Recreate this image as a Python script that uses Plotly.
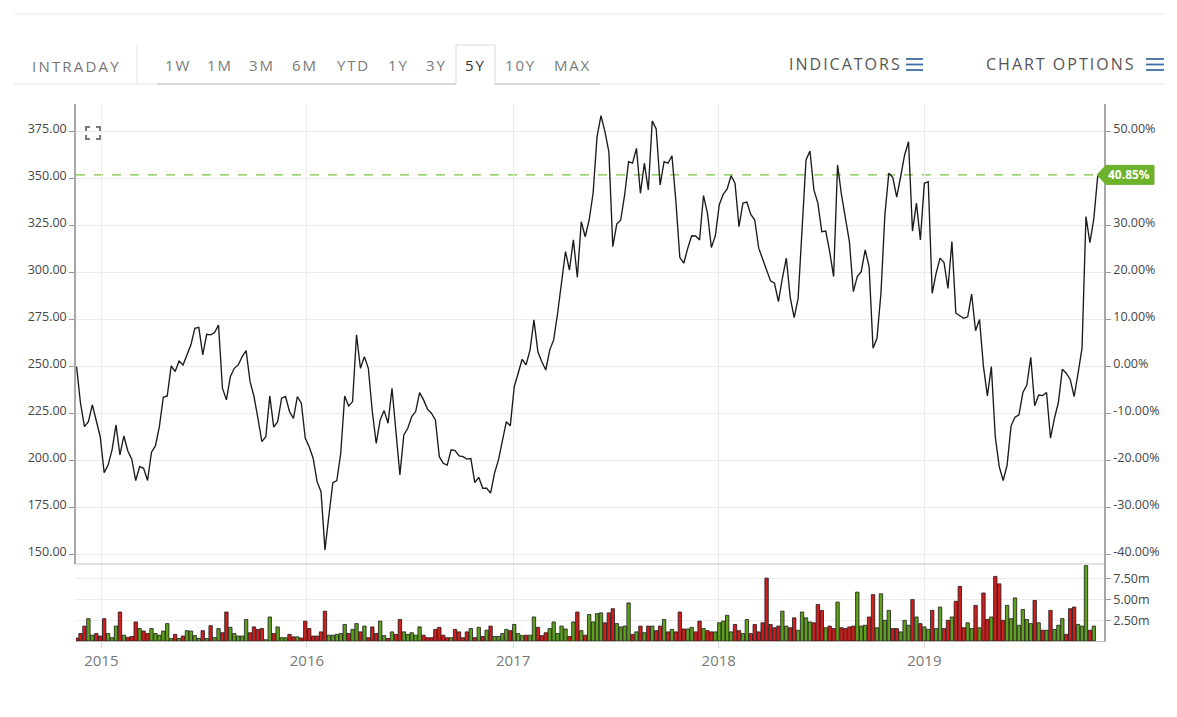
import plotly.graph_objects as go
import pandas as pd

# ---------------- data ----------------
start_date = "2014-11-18"          # first weekly close
close = [
    250.0, 230.5, 218.1, 220.7, 229.7, 221.6, 212.7, 193.6, 197.6, 205.7,
    219.0, 203.0, 213.1, 205.1, 200.8, 189.4, 196.8, 195.9, 189.4, 204.5,
    207.8, 218.1, 233.7, 234.4, 250.4, 247.4, 253.0, 250.9, 256.2, 261.6,
    270.4, 270.9, 256.2, 267.2, 266.9, 268.1, 272.1, 238.5, 232.3, 244.6,
    249.1, 250.9, 255.3, 258.5, 242.0, 234.1, 222.5, 210.1, 212.7, 234.4,
    217.8, 220.7, 233.2, 234.1, 226.1, 222.5, 234.1, 230.5, 211.9, 207.4,
    201.3, 188.8, 183.5, 152.5, 170.8, 188.3, 189.4, 203.9, 234.4, 229.1,
    231.4, 266.9, 249.1, 255.3, 249.1, 226.1, 209.2, 221.6, 226.6, 219.9,
    238.5, 214.6, 192.4, 213.7, 217.2, 223.4, 226.1, 236.2, 232.3, 227.4,
    225.2, 221.6, 202.1, 198.6, 197.6, 205.7, 205.3, 202.5, 202.1, 200.8,
    201.1, 188.3, 191.1, 185.3, 185.3, 182.7, 193.3, 200.4, 211.0, 220.7,
    218.5, 239.3, 246.5, 253.9, 250.9, 258.8, 274.9, 257.9, 252.6, 248.2,
    258.8, 264.2, 278.4, 296.1, 311.2, 301.4, 317.4, 297.5, 327.1, 319.1,
    328.0, 342.2, 372.4, 383.5, 375.0, 364.3, 313.8, 325.8, 328.0, 341.3,
    359.0, 358.2, 366.1, 342.2, 358.2, 344.0, 380.7, 376.4, 346.6, 359.0,
    358.2, 362.2, 337.8, 308.0, 305.0, 313.0, 319.6, 319.5, 317.4, 341.0,
    331.6, 313.3, 319.6, 336.1, 341.7, 344.5, 351.5, 347.5, 324.5, 337.0,
    337.5, 331.0, 328.0, 313.0, 306.8, 300.9, 295.6, 294.4, 284.6, 297.0,
    307.7, 286.7, 276.1, 286.3, 323.6, 359.9, 364.7, 344.0, 337.0, 321.8,
    322.1, 311.2, 297.9, 357.3, 341.3, 328.0, 316.5, 289.9, 297.9, 300.5,
    312.1, 303.1, 259.8, 265.1, 289.0, 330.7, 352.9, 350.7, 340.1, 351.0,
    362.6, 369.6, 322.1, 337.0, 317.4, 347.5, 348.4, 289.0, 299.7, 307.7,
    305.3, 291.6, 316.5, 278.4, 277.0, 275.7, 276.5, 288.6, 269.1, 275.1,
    250.0, 234.4, 250.0, 212.7, 196.8, 189.4, 197.6, 218.5, 223.1, 224.3,
    236.2, 240.2, 255.0, 229.2, 234.9, 234.6, 236.2, 211.9, 222.5, 230.9,
    248.6, 246.5, 243.2, 234.1, 246.5, 259.8, 329.8, 315.9, 328.9, 352.0,
]
volume_m = [
    0.36, 0.9, 1.8, 2.7, 0.7, 0.9, 0.6, 2.7, 0.9, 0.4,
    1.8, 3.5, 0.7, 0.45, 0.55, 2.3, 1.5, 1.2, 0.9, 1.5,
    0.9, 0.7, 1.2, 2.1, 0.3, 0.8, 0.3, 0.6, 1.25, 1.2,
    0.65, 0.3, 1.25, 0.3, 1.85, 0.4, 1.5, 1.0, 3.5, 1.65,
    0.9, 0.6, 0.6, 2.6, 1.0, 1.7, 1.4, 1.5, 0.15, 2.9,
    0.9, 1.7, 0.4, 0.4, 0.8, 0.5, 0.5, 0.36, 2.4, 1.5,
    0.6, 0.6, 1.1, 3.6, 0.7, 0.7, 0.8, 0.9, 2.0, 0.9,
    1.4, 2.1, 1.1, 1.8, 0.4, 1.7, 0.9, 2.4, 0.65, 0.3,
    1.1, 0.8, 2.6,
    1.1, 0.8, 1.0, 0.7, 1.7, 0.7, 0.4, 0.4, 1.4, 1.65,
    0.7, 0.4, 0.4, 1.4, 1.1, 0.4, 1.1, 1.5, 0.4, 1.65,
    0.55, 1.3, 1.8, 0.55, 0.55, 0.9, 1.4, 1.25, 2.0, 0.9,
    0.65, 0.7, 0.7, 2.9, 1.65, 0.65, 1.0, 1.5, 2.3, 0.9,
    1.8, 1.45, 0.55, 2.3, 3.5, 1.25, 0.7, 3.2, 2.3, 3.3,
    3.4, 2.2, 3.4, 3.9, 2.1, 1.7, 1.8, 4.6, 0.8, 1.1,
    1.8, 1.0, 1.8, 1.8, 1.25, 1.8, 2.6, 1.1, 1.4, 1.1,
    3.5, 1.45, 1.45, 1.65, 1.1, 2.4, 1.5, 1.25, 1.1, 1.1,
    2.2, 2.4, 3.1, 1.1, 2.0, 1.25, 0.9, 2.6, 0.9, 2.0,
    1.1, 2.2, 7.6,
    2.0, 1.6, 1.8, 3.6, 1.8, 1.6, 2.8, 1.3, 3.5, 2.8,
    2.3, 2.2, 4.4, 3.7, 1.6, 1.8, 1.5, 4.7, 1.6, 1.5,
    1.7, 1.8, 5.9, 1.8, 1.9, 2.9, 5.6, 1.6, 5.7, 2.5,
    3.7, 1.5, 1.5, 1.1, 2.5, 1.9, 5.0, 2.9, 2.1, 1.7,
    1.4, 3.7, 1.5, 4.1, 1.5, 2.5, 2.9, 4.8, 6.6, 1.6,
    2.2, 1.5, 4.3, 1.6, 5.8, 2.6, 2.9, 7.8, 6.9, 2.5,
    4.3, 2.7, 5.2, 1.9, 3.8, 2.6, 2.1, 4.9, 2.2, 1.3,
    1.3, 3.7, 1.4, 1.9, 2.7, 0.8, 3.9, 4.1, 2.0, 1.8,
    9.1, 1.3, 1.8, None,
]
base_close = 250.0                      # 0.00% reference level
last_change_label = "40.85%"
year_ticks = ["2015-01-01", "2016-01-01", "2017-01-01", "2018-01-01", "2019-01-01"]
year_labels = ["2015", "2016", "2017", "2018", "2019"]
price_ticks = [150, 175, 200, 225, 250, 275, 300, 325, 350, 375]
pct_ticks = [-0.4, -0.3, -0.2, -0.1, 0.0, 0.1, 0.2, 0.3, 0.5]   # 40% hidden behind the tag
vol_ticks = [2.5, 5.0, 7.5]
vol_labels = ["2.50m", "5.00m", "7.50m"]
range_buttons = ["1W", "1M", "3M", "6M", "YTD", "1Y", "3Y", "5Y", "10Y", "MAX"]
selected_button = "5Y"

# ---------------- derived ----------------
dates = pd.date_range(start_date, periods=len(close), freq="7D")
GREEN, RED = "#5fa11c", "#d01d1d"
bar_colors = [RED] + [GREEN if close[i] >= close[i - 1] else RED for i in range(1, len(close))]

price_range = [145.0, 389.7]
pct_range = [price_range[0] / base_close - 1, price_range[1] / base_close - 1]
x_range = ["2014-11-17", "2019-11-16"]

W, H = 1177, 717
L, R, T, B, SPLIT = 76, 1104, 104, 641, 564
def px(x):
    return (x - L) / (R - L)
def py(y):
    return (B - y) / (B - T)

FONT = "Open Sans"
fig = go.Figure()

fig.add_trace(go.Scatter(x=list(dates), y=close, mode="lines",
                         line=dict(color="#1b1b1b", width=1.35),
                         xaxis="x", yaxis="y", hoverinfo="skip", showlegend=False))
fig.add_trace(go.Scatter(x=[dates[0]], y=[0], mode="markers", marker=dict(opacity=0),
                         xaxis="x", yaxis="y2", hoverinfo="skip", showlegend=False))
fig.add_trace(go.Bar(x=list(dates), y=volume_m,
                     marker=dict(color=bar_colors, line=dict(color="#1a1a1a", width=0.8)),
                     xaxis="x2", yaxis="y3", hoverinfo="skip", showlegend=False))

grid = "#ececec"
axis_line = "#a8a8a8"
tickfont = dict(family=FONT, size=12.5, color="#454545")

fig.update_layout(
    width=W, height=H,
    margin=dict(l=L, r=W - R, t=T, b=H - B, pad=0),
    paper_bgcolor="white", plot_bgcolor="white",
    bargap=0.14,
    font=dict(family=FONT),
    xaxis=dict(domain=[0, 1], anchor="y", type="date", range=x_range,
               tickvals=year_ticks, ticktext=year_labels, showticklabels=False,
               showgrid=True, gridcolor=grid, zeroline=False, showline=False, ticks=""),
    xaxis2=dict(domain=[0, 1], anchor="y3", type="date", range=x_range, matches="x",
                tickvals=year_ticks, ticktext=year_labels,
                tickfont=dict(family=FONT, size=15, color="#777777"),
                showgrid=True, gridcolor=grid, zeroline=False,
                showline=True, linecolor="#bdbdbd", linewidth=1,
                ticks="outside", ticklen=6, tickcolor="#dddddd"),
    yaxis=dict(domain=[py(SPLIT), 1], anchor="x", range=price_range,
               tickvals=price_ticks, tickformat=".2f", tickfont=tickfont,
               showgrid=True, gridcolor=grid, zeroline=False,
               showline=True, linecolor=axis_line, linewidth=1.5,
               ticks="outside", ticklen=5, tickcolor="#999999", ticklabelshift=-3),
    yaxis2=dict(domain=[py(SPLIT), 1], anchor="x", overlaying="y", side="right", range=pct_range,
                tickvals=pct_ticks, ticktext=[f"{v * 100:.2f}%" for v in pct_ticks],
                tickfont=tickfont, showgrid=False, zeroline=False,
                showline=True, linecolor=axis_line, linewidth=1.5,
                ticks="outside", ticklen=5, tickcolor="#999999", ticklabelshift=-3),
    yaxis3=dict(domain=[0, py(SPLIT)], anchor="x2", side="right", range=[0, 9.3],
                tickvals=vol_ticks, ticktext=vol_labels, tickfont=tickfont,
                showgrid=True, gridcolor=grid, zeroline=False,
                showline=True, linecolor=axis_line, linewidth=1.5,
                ticks="outside", ticklen=5, tickcolor="#999999"),
)

shapes = []
annots = []

# pane separator
shapes.append(dict(type="line", xref="paper", yref="paper", x0=0, x1=1, y0=py(SPLIT), y1=py(SPLIT),
                   line=dict(color="#c4c4c4", width=1)))
# last price dashed line
shapes.append(dict(type="line", xref="x", yref="y", x0=x_range[0], x1=dates[-1],
                   y0=close[-1], y1=close[-1], line=dict(color="#7cc242", width=1.2, dash="dash"), layer="below"))
# last change tag
units_per_px = (price_range[1] - price_range[0]) / (SPLIT - T)
hh = 9.5 * units_per_px
yc = close[-1]
tag = (f"M {px(1097)} {yc} L {px(1106)} {yc + hh} L {px(1154)} {yc + hh} "
       f"L {px(1154)} {yc - hh} L {px(1106)} {yc - hh} Z")
shapes.append(dict(type="path", xref="paper", yref="y", path=tag,
                   fillcolor="#6cb22a", line=dict(color="#6cb22a", width=1)))
annots.append(dict(xref="paper", yref="y", x=px(1129), y=yc, text=f"<b>{last_change_label}</b>",
                   showarrow=False, xanchor="center", yanchor="middle",
                   font=dict(family=FONT, size=12, color="white")))

# expand icon (corner brackets)
ic = "#7a7a7a"
for (cx, cy, dx, dy) in [(86, 127, 1, 1), (100, 127, -1, 1), (86, 139, 1, -1), (100, 139, -1, -1)]:
    p = f"M {px(cx + 4 * dx)} {py(cy)} L {px(cx)} {py(cy)} L {px(cx)} {py(cy + 4 * dy)}"
    shapes.append(dict(type="path", xref="paper", yref="paper", path=p, line=dict(color=ic, width=2)))

# toolbar frame
light = "#e4e4e4"
shapes.append(dict(type="line", xref="paper", yref="paper", x0=px(14), x1=px(1165), y0=py(14), y1=py(14),
                   line=dict(color="#ececec", width=1)))
shapes.append(dict(type="line", xref="paper", yref="paper", x0=px(14), x1=px(1165), y0=py(84), y1=py(84),
                   line=dict(color=light, width=1)))
shapes.append(dict(type="line", xref="paper", yref="paper", x0=px(157), x1=px(600), y0=py(84), y1=py(84),
                   line=dict(color="#d9d9d9", width=2)))
shapes.append(dict(type="line", xref="paper", yref="paper", x0=px(137), x1=px(137), y0=py(45), y1=py(84),
                   line=dict(color=light, width=1)))
shapes.append(dict(type="rect", xref="paper", yref="paper", x0=px(456), x1=px(495), y0=py(85), y1=py(45),
                   fillcolor="white", line=dict(width=0)))
shapes.append(dict(type="path", xref="paper", yref="paper",
                   path=f"M {px(456)} {py(85)} L {px(456)} {py(45)} L {px(495)} {py(45)} L {px(495)} {py(85)}",
                   line=dict(color="#d9d9d9", width=1)))

def sp(t, ls):
    return f'<span style="letter-spacing:{ls}px">{t}</span>'

annots.append(dict(xref="paper", yref="paper", x=px(76), y=py(66), text=sp("INTRADAY", 2.2),
                   showarrow=False, xanchor="center", yanchor="middle",
                   font=dict(family=FONT, size=15, color="#777777")))
btn_centers = [177.5, 219.5, 261.5, 305, 353, 398, 436, 475, 520, 572.5]
for lab, cxp in zip(range_buttons, btn_centers):
    annots.append(dict(xref="paper", yref="paper", x=px(cxp), y=py(65), text=sp(lab, 1.8),
                       showarrow=False, xanchor="center", yanchor="middle",
                       font=dict(family=FONT, size=15, color="#333333" if lab == selected_button else "#7a7a7a")))
annots.append(dict(xref="paper", yref="paper", x=px(845.5), y=py(64), text=sp("INDICATORS", 2.0),
                   showarrow=False, xanchor="center", yanchor="middle",
                   font=dict(family=FONT, size=16, color="#555555")))
annots.append(dict(xref="paper", yref="paper", x=px(1060), y=py(64), text=sp("CHART OPTIONS", 2.0),
                   showarrow=False, xanchor="center", yanchor="middle",
                   font=dict(family=FONT, size=16, color="#555555")))
for (x0, x1) in [(906, 923), (1146, 1164)]:
    for yy in (59, 64.5, 70):
        shapes.append(dict(type="line", xref="paper", yref="paper", x0=px(x0), x1=px(x1),
                           y0=py(yy), y1=py(yy), line=dict(color="#3d6fa3", width=1.8)))

fig.update_layout(shapes=shapes, annotations=annots)
fig.write_html("out.html", config={"displayModeBar": False})
